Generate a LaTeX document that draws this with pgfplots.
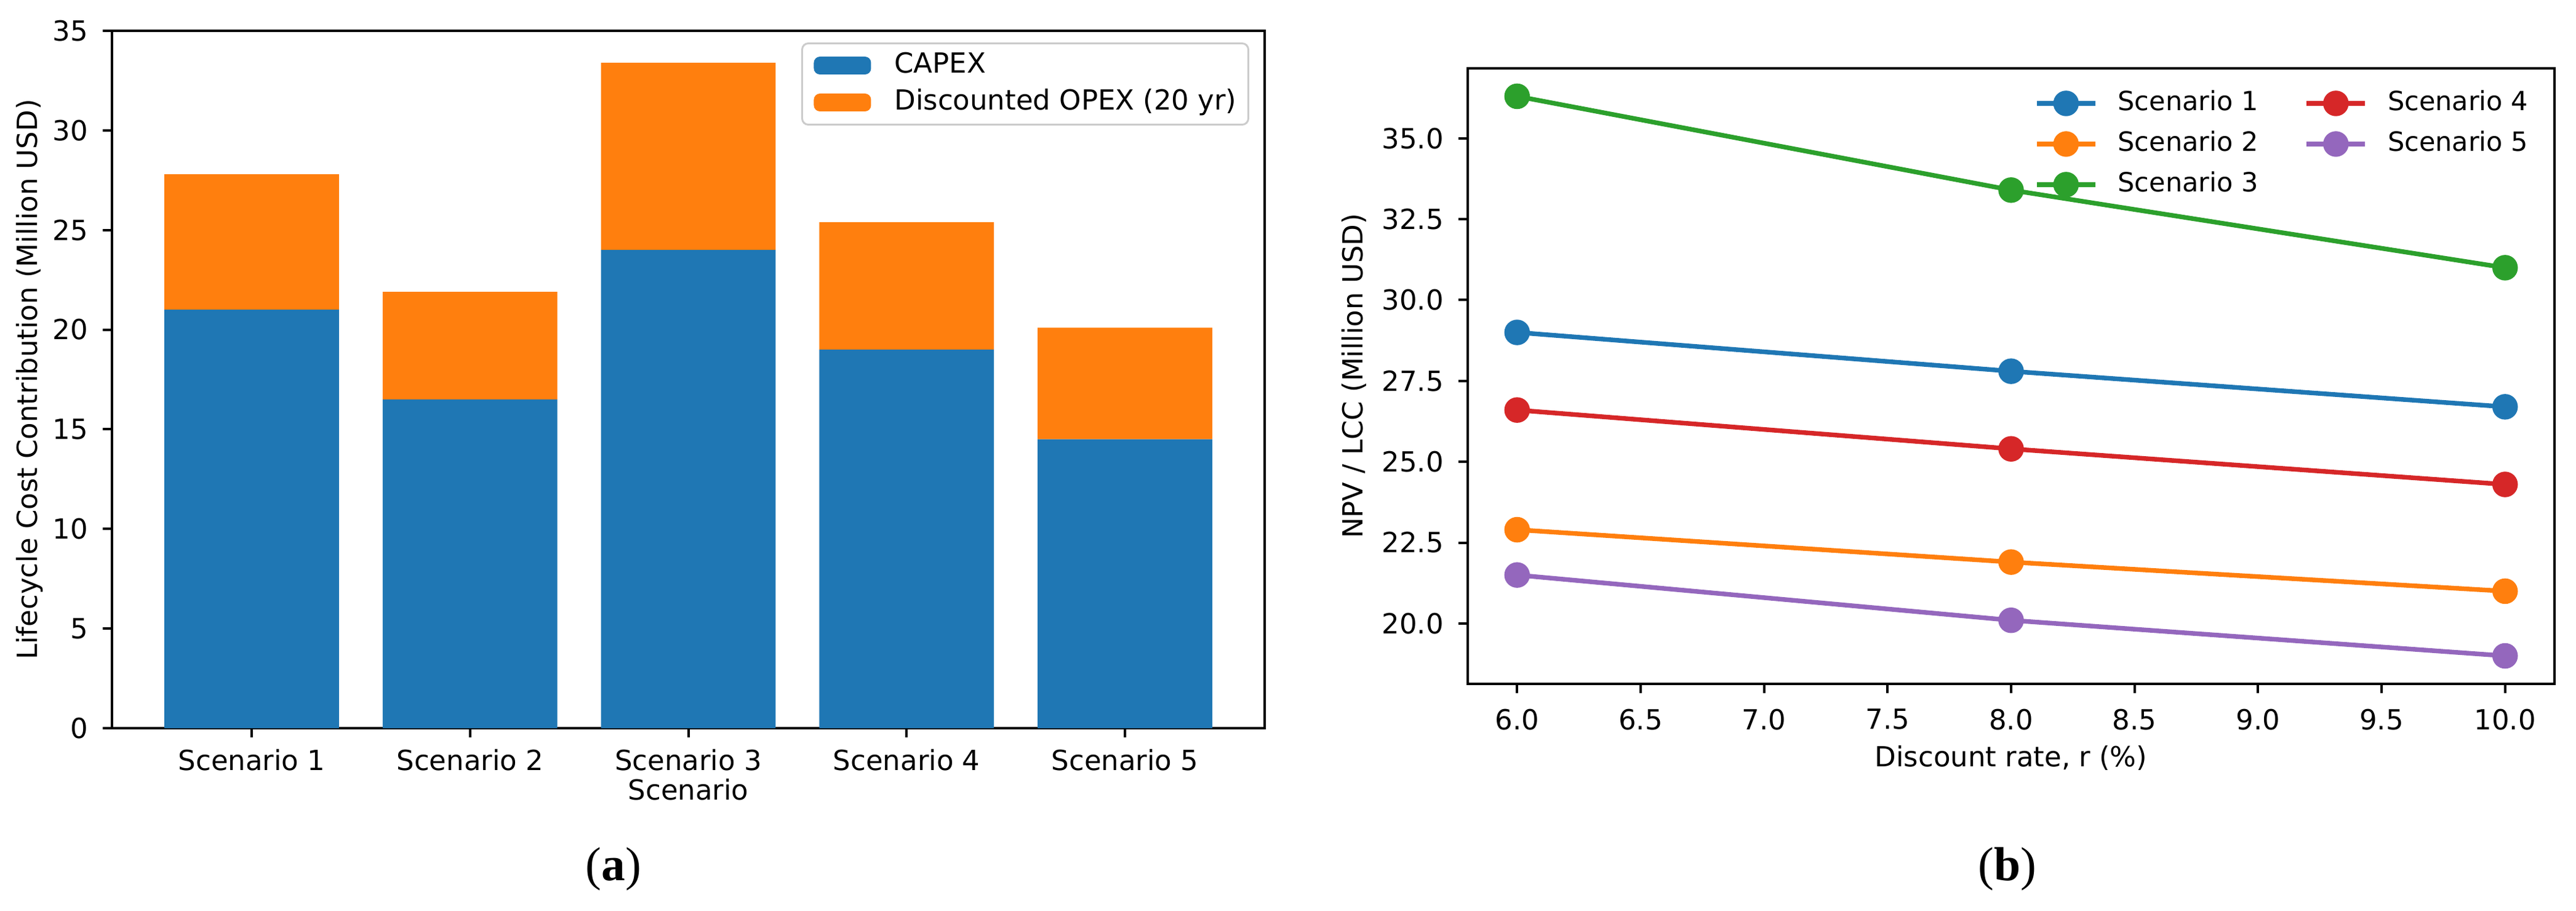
\documentclass[border=0pt]{standalone}
\usepackage{pgfplots}
\pgfplotsset{compat=1.18}
\usepackage{fontspec}
\setmainfont{DejaVu Sans}
\newfontfamily\capfont{Liberation Serif}
\definecolor{tabblue}{HTML}{1F77B4}
\definecolor{taborange}{HTML}{FF7F0E}
\definecolor{tabgreen}{HTML}{2CA02C}
\definecolor{tabred}{HTML}{D62728}
\definecolor{tabpurple}{HTML}{9467BD}
\newcommand\fs{\fontsize{9}{10.8}\selectfont}
\newcommand\fsl{\fontsize{8.6}{10.3}\selectfont}
\pgfplotsset{
  mpl/.style={
    scale only axis,
    axis line style={line width=0.9pt, black},
    tick style={black, line width=0.8pt},
    tick align=outside,
    major tick length=3pt,
    tick pos=left,
    ticklabel style={font=\fs},
    label style={font=\fs},
    /pgf/number format/assume math mode=true,
    yticklabel style={xshift=-1.3pt},
  }
}
\begin{document}
\begin{tikzpicture}
\path[use as bounding box] (0,0) rectangle (837.2pt,296pt);
% ---------- (a) ----------
\begin{axis}[mpl,
  at={(36.4pt,59.4pt)}, anchor=south west,
  width=374.6pt, height=226.6pt,
  xmin=-0.64, xmax=4.64, ymin=0, ymax=35,
  ytick={0,5,...,35},
  xtick={0,1,2,3,4},
  xticklabels={Scenario 1,Scenario 2,Scenario 3,Scenario 4,Scenario 5},
  xticklabel style={yshift=-0.3pt},
  ybar stacked, bar width=0.8,
  xlabel={Scenario},
  ylabel={Lifecycle Cost Contribution (Million USD)},
  xlabel style={at={(axis description cs:0.5,-0.088)}, anchor=center},
  ylabel style={at={(axis description cs:-0.0715,0.5)}, anchor=center},
  legend cell align=left,
  legend image code/.code={\draw[#1,/tikz/.cd,draw=none] (0pt,-2.9pt) rectangle (18.6pt,2.9pt);},
  legend style={at={(rel axis cs:1,1)}, anchor=north east, xshift=-5pt, yshift=-3.8pt,
    draw=black!20, line width=0.6pt, rounded corners=2pt, fill=white, font=\fs,
    inner xsep=3.8pt, inner ysep=1.2pt,
    nodes={inner xsep=0pt, inner ysep=1.55pt, text height=6.8pt, text depth=2.1pt},
    /tikz/every odd column/.append style={column sep=7.6pt}},
]
\addplot[fill=tabblue, draw=none] coordinates {(0,21.0) (1,16.5) (2,24.0) (3,19.0) (4,14.5)};
\addplot[fill=taborange, draw=none] coordinates {(0,6.8) (1,5.4) (2,9.4) (3,6.4) (4,5.6)};
\legend{CAPEX, Discounted OPEX (20 yr)}
\end{axis}
% ---------- (b) ----------
\begin{axis}[mpl,
  at={(477pt,73.8pt)}, anchor=south west,
  width=353.2pt, height=200pt,
  xmin=5.8, xmax=10.2, ymin=18.135, ymax=37.165,
  xtick={6,6.5,...,10},
  ytick={20,22.5,...,35},
  xticklabel style={yshift=-1.7pt, /pgf/number format/.cd, fixed, fixed zerofill, precision=1},
  yticklabel style={/pgf/number format/.cd, fixed, fixed zerofill, precision=1},
  xlabel={Discount rate, r (\%)},
  ylabel={NPV / LCC (Million USD)},
  xlabel style={at={(axis description cs:0.5,-0.12)}, anchor=center},
  ylabel style={at={(axis description cs:-0.1048,0.5)}, anchor=center},
  legend columns=2,
  legend cell align=left,
  legend image code/.code={\draw[mark repeat=2,mark phase=2,#1] plot coordinates {(0pt,0pt) (9.5pt,0pt) (19pt,0pt)};},
  legend style={at={(rel axis cs:1,1)}, anchor=north east, xshift=-8.4pt, yshift=-4.6pt,
    draw=none, fill=none, font=\fsl, inner sep=0pt,
    nodes={inner xsep=0pt, inner ysep=2.3pt, text height=6.6pt, text depth=2pt},
    /tikz/every odd column/.append style={column sep=6.6pt},
    /tikz/every even column/.append style={column sep=15pt}},
  every axis plot/.append style={line width=1.5pt, mark=*, mark size=3.4pt, mark options={solid}},
]
\addplot[color=tabblue] coordinates {(6,29.0) (8,27.8) (10,26.7)};
\addplot[color=tabred] coordinates {(6,26.6) (8,25.4) (10,24.3)};
\addplot[color=taborange] coordinates {(6,22.9) (8,21.9) (10,21.0)};
\addplot[color=tabpurple] coordinates {(6,21.5) (8,20.1) (10,19.0)};
\addplot[color=tabgreen] coordinates {(6,36.3) (8,33.4) (10,31.0)};
\legend{Scenario 1, Scenario 4, Scenario 2, Scenario 5, Scenario 3}
\end{axis}
\node[font=\capfont\fontsize{15.5}{18}\selectfont] at (199.4pt,13.6pt) {(\textbf{a})};
\node[font=\capfont\fontsize{15.5}{18}\selectfont] at (652.4pt,13.6pt) {(\textbf{b})};
\end{tikzpicture}
\end{document}
